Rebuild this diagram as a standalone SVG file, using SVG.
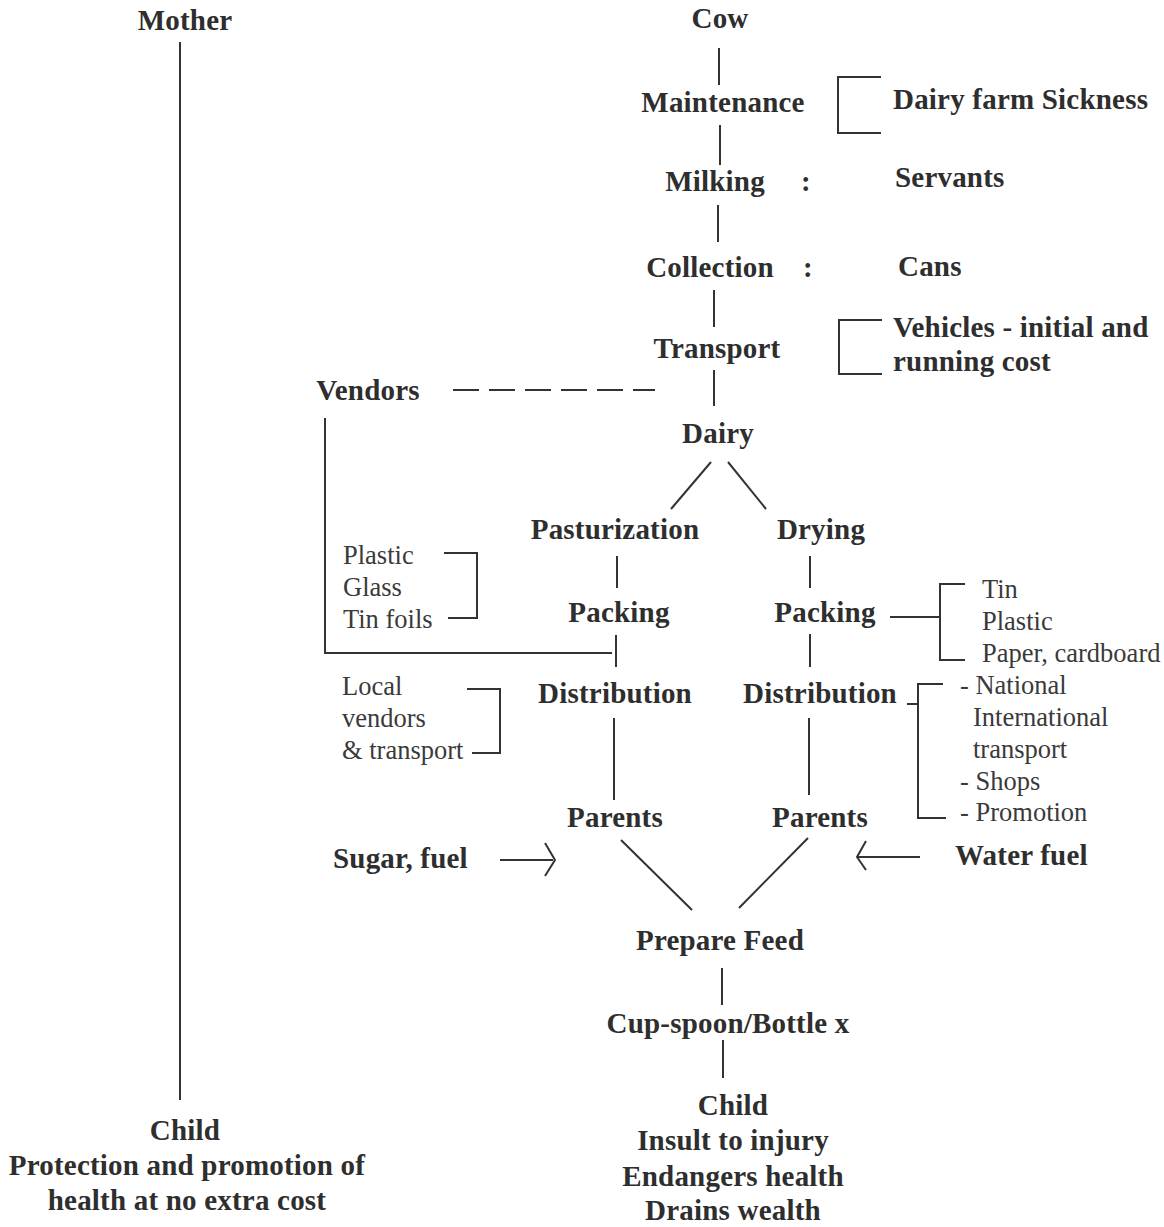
<svg xmlns="http://www.w3.org/2000/svg" width="1164" height="1227" viewBox="0 0 1164 1227">
<style>
text{font-family:"Liberation Serif","Times New Roman",serif;fill:#2e2e2e}
.b{font-weight:bold;font-size:29px;letter-spacing:0.2px}
.c{text-anchor:middle}
.l{font-size:26.5px;fill:#3a3a3a}
.ln{stroke:#333;stroke-width:2;fill:none}
</style>
<rect width="1164" height="1227" fill="#fff"/>
<g id="connectors" class="ln">
<line x1="180" y1="42" x2="180" y2="1100"/>
<line x1="719" y1="48" x2="719" y2="85"/>
<line x1="720" y1="125" x2="720" y2="165"/>
<line x1="718" y1="205" x2="718" y2="242"/>
<line x1="714" y1="290" x2="714" y2="327"/>
<line x1="714" y1="370" x2="714" y2="406"/>
<polyline points="881,77 838,77 838,133 881,133"/>
<polyline points="882,320 839,320 839,374 882,374"/>
<line x1="453" y1="390" x2="655" y2="390" stroke-dasharray="26,10"/>
<polyline points="325,418 325,653 612,653"/>
<line x1="711" y1="462" x2="671" y2="509"/>
<line x1="728" y1="462" x2="766" y2="509"/>
<line x1="617" y1="556" x2="617" y2="588"/>
<line x1="810" y1="556" x2="810" y2="588"/>
<polyline points="444,553 477,553 477,618 448,618"/>
<line x1="890" y1="617" x2="940" y2="617"/>
<polyline points="965,584 940,584 940,660 965,660"/>
<line x1="616" y1="635" x2="616" y2="667"/>
<line x1="810" y1="634" x2="810" y2="667"/>
<polyline points="467,689 500,689 500,753 472,753"/>
<line x1="907" y1="704" x2="918" y2="704"/>
<polyline points="943,684 918,684 918,818 946,818"/>
<line x1="614" y1="718" x2="614" y2="800"/>
<line x1="809" y1="718" x2="809" y2="795"/>
<line x1="500" y1="860" x2="553" y2="860"/>
<polyline points="545,843 555,860 545,876"/>
<line x1="920" y1="857" x2="858" y2="857"/>
<polyline points="866,841 857,857 866,870"/>
<line x1="621" y1="840" x2="692" y2="910"/>
<line x1="808" y1="838" x2="739" y2="908"/>
<line x1="722" y1="968" x2="722" y2="1005"/>
<line x1="723" y1="1040" x2="723" y2="1078"/>
</g>
<g id="mother"><text class="b c" x="185" y="30">Mother</text></g>
<g id="child-left">
<text class="b c" x="185" y="1140">Child</text>
<text class="b c" x="187" y="1175">Protection and promotion of</text>
<text class="b c" x="187" y="1210">health at no extra cost</text>
</g>
<g id="cow"><text class="b c" x="720" y="28">Cow</text></g>
<g id="maintenance"><text class="b c" x="723" y="112">Maintenance</text></g>
<g id="dairy-farm"><text class="b" x="893" y="109">Dairy farm Sickness</text></g>
<g id="milking"><text class="b c" x="715" y="191">Milking</text><text class="b" x="801" y="191">:</text></g>
<g id="servants"><text class="b" x="895" y="187">Servants</text></g>
<g id="collection"><text class="b c" x="710" y="277">Collection</text><text class="b" x="803" y="277">:</text></g>
<g id="cans"><text class="b" x="898" y="276">Cans</text></g>
<g id="transport"><text class="b c" x="717" y="358">Transport</text></g>
<g id="vehicles"><text class="b" x="893" y="337">Vehicles - initial and</text><text class="b" x="893" y="371">running cost</text></g>
<g id="vendors"><text class="b c" x="368" y="400">Vendors</text></g>
<g id="dairy"><text class="b c" x="718" y="443">Dairy</text></g>
<g id="pasturization"><text class="b c" x="615" y="539">Pasturization</text></g>
<g id="drying"><text class="b c" x="821" y="539">Drying</text></g>
<g id="packing-left"><text class="b c" x="619" y="622">Packing</text></g>
<g id="packing-right"><text class="b c" x="825" y="622">Packing</text></g>
<g id="materials-left">
<text class="l" x="343" y="564">Plastic</text>
<text class="l" x="343" y="596">Glass</text>
<text class="l" x="343" y="628">Tin foils</text>
</g>
<g id="materials-right">
<text class="l" x="982" y="598">Tin</text>
<text class="l" x="982" y="630">Plastic</text>
<text class="l" x="982" y="662">Paper, cardboard</text>
</g>
<g id="distribution-left"><text class="b c" x="615" y="703">Distribution</text></g>
<g id="distribution-right"><text class="b c" x="820" y="703">Distribution</text></g>
<g id="local-vendors">
<text class="l" x="342" y="695">Local</text>
<text class="l" x="342" y="727">vendors</text>
<text class="l" x="342" y="759">&amp; transport</text>
</g>
<g id="national">
<text class="l" x="960" y="694">- National</text>
<text class="l" x="973" y="726">International</text>
<text class="l" x="973" y="758">transport</text>
<text class="l" x="960" y="790">- Shops</text>
<text class="l" x="960" y="821">- Promotion</text>
</g>
<g id="parents-left"><text class="b c" x="615" y="827">Parents</text></g>
<g id="parents-right"><text class="b c" x="820" y="827">Parents</text></g>
<g id="sugar"><text class="b" x="333" y="868">Sugar, fuel</text></g>
<g id="water"><text class="b" x="955" y="865">Water fuel</text></g>
<g id="prepare"><text class="b c" x="720" y="950">Prepare Feed</text></g>
<g id="cup"><text class="b c" x="728" y="1033">Cup-spoon/Bottle x</text></g>
<g id="child-right">
<text class="b c" x="733" y="1115">Child</text>
<text class="b c" x="733" y="1150">Insult to injury</text>
<text class="b c" x="733" y="1186">Endangers health</text>
<text class="b c" x="733" y="1220">Drains wealth</text>
</g>
</svg>
